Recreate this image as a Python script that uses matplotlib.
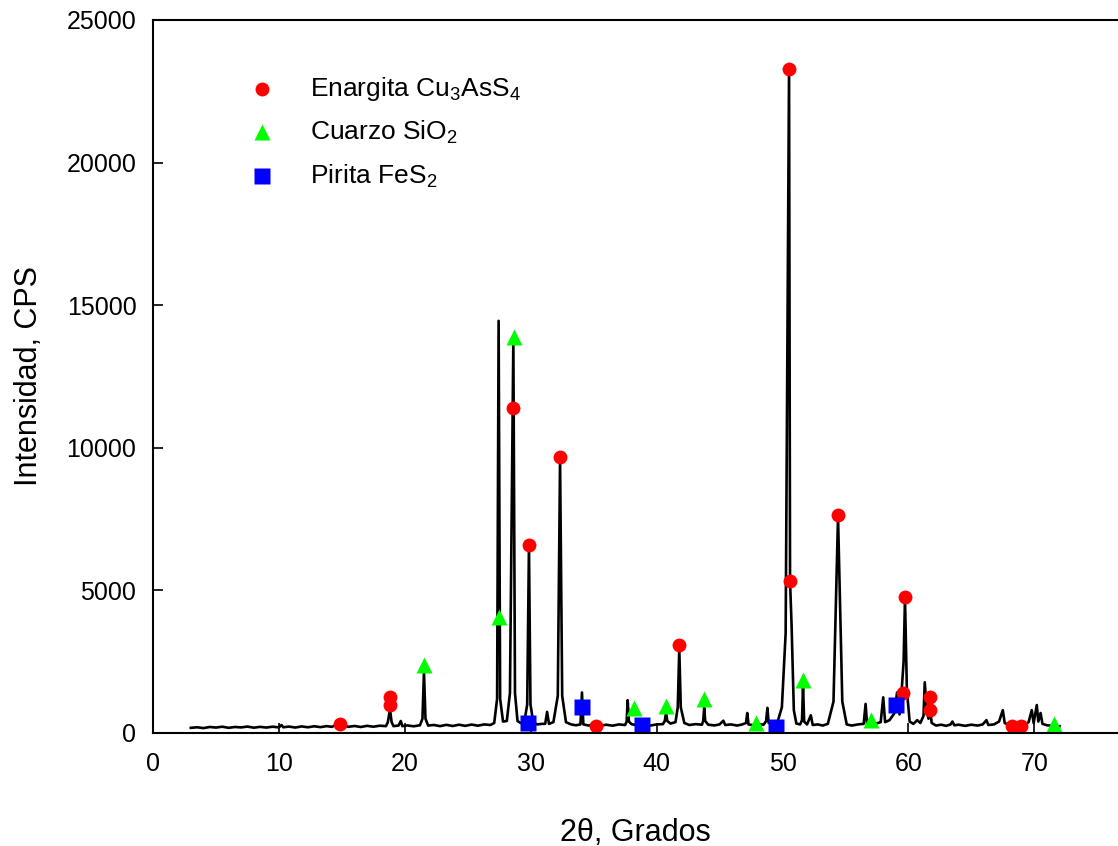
import numpy as np
import matplotlib
matplotlib.use("Agg")
import matplotlib.pyplot as plt

plt.rcParams['font.family'] = ['Liberation Sans', 'DejaVu Sans']
plt.rcParams['mathtext.fontset'] = 'custom'
plt.rcParams['mathtext.rm'] = 'Liberation Sans'
plt.rcParams['mathtext.it'] = 'Liberation Sans'

# difractograma (2theta, CPS)
two_theta = [
    3.0, 3.5, 4.0, 4.5, 5.0, 5.5, 6.0, 6.5, 7.0, 7.5, 8.0, 8.5, 9.0, 9.5, 10.0, 10.2,
    10.35, 10.8, 11.3, 11.8, 12.3, 12.8, 13.3, 13.8, 14.2, 14.5, 14.85, 15.2, 15.5,
    16.0, 16.5, 17.0, 17.5, 18.0, 18.5, 18.65, 18.82, 18.95, 19.1, 19.5, 19.68, 19.8,
    20.2, 20.7, 21.2, 21.4, 21.52, 21.64, 21.85, 22.3, 22.8, 23.3, 23.8, 24.3, 24.8,
    25.3, 25.8, 26.3, 26.8, 27.1, 27.33, 27.45, 27.57, 27.8, 28.1, 28.35, 28.62, 28.75,
    28.95, 29.2, 29.5, 29.72, 29.86, 29.98, 30.2, 30.5, 30.9, 31.15, 31.3, 31.45, 31.8,
    32.15, 32.33, 32.5, 32.8, 33.2, 33.6, 33.95, 34.07, 34.18, 34.6, 35.0, 35.5, 36.0,
    36.5, 37.0, 37.5, 37.62, 37.7, 37.8, 38.0, 38.5, 39.0, 39.5, 40.0, 40.5, 40.65,
    40.75, 40.85, 41.1, 41.5, 41.68, 41.8, 41.92, 42.2, 42.6, 43.1, 43.6, 43.7, 43.78,
    43.86, 44.1, 44.6, 45.0, 45.3, 45.45, 45.9, 46.4, 46.8, 47.1, 47.2, 47.3, 47.7,
    48.1, 48.5, 48.7, 48.8, 48.9, 49.2, 49.6, 49.95, 50.25, 50.52, 50.6, 50.72, 50.9,
    51.1, 51.4, 51.55, 51.63, 51.72, 51.95, 52.25, 52.4, 52.8, 53.2, 53.6, 54.05, 54.41,
    54.75, 55.1, 55.5, 56.0, 56.45, 56.6, 56.72, 57.0, 57.3, 57.8, 58.0, 58.15, 58.5,
    58.9, 59.1, 59.3, 59.45, 59.62, 59.73, 59.88, 60.1, 60.4, 60.7, 60.95, 61.2, 61.3,
    61.45, 61.6, 61.72, 61.85, 62.2, 62.6, 63.0, 63.35, 63.5, 63.65, 64.0, 64.5, 65.0,
    65.5, 65.9, 66.2, 66.35, 66.8, 67.2, 67.5, 67.65, 68.0, 68.5, 68.9, 69.3, 69.55,
    69.8, 69.95, 70.2, 70.32, 70.5, 70.65, 71.0, 71.5, 72.0,
]
cps = [
    180, 200, 170, 210, 190, 220, 180, 210, 195, 225, 185, 215, 190, 220, 195, 280,
    200, 225, 190, 230, 200, 235, 205, 240, 215, 280, 340, 260, 215,
    245, 210, 250, 220, 255, 240, 380, 830, 380, 240, 260, 420, 240,
    265, 235, 270, 500, 2150, 500, 260, 280, 240, 285, 245, 290, 250,
    295, 255, 300, 280, 350, 1200, 14450, 1200, 400, 420, 1400, 13800, 1400,
    420, 350, 400, 1000, 6550, 1000, 380, 300, 320, 320, 740, 320, 380,
    1300, 9600, 1300, 380, 300, 270, 300, 1420, 300, 260, 300, 250, 290,
    255, 300, 280, 400, 1150, 400, 310, 265, 300, 260, 300, 310, 420,
    720, 420, 330, 380, 900, 2950, 900, 350, 280, 310, 290, 420, 880,
    420, 290, 265, 300, 430, 280, 300, 260, 300, 350, 700, 300, 270,
    310, 290, 420, 880, 350, 320, 380, 900, 3500, 23250, 5300, 3800, 800,
    330, 300, 450, 1680, 400, 300, 620, 280, 300, 260, 320, 1100, 7600,
    1100, 300, 260, 300, 320, 1020, 300, 280, 310, 380, 1250, 380, 450,
    700, 1420, 650, 1400, 2500, 4750, 1500, 400, 320, 450, 350, 600, 1780,
    800, 500, 900, 350, 260, 290, 250, 300, 400, 270, 290, 250, 290,
    260, 300, 450, 280, 300, 400, 800, 350, 280, 250, 270, 300, 380,
    800, 350, 980, 400, 700, 320, 270, 250, 240,
]

# fases identificadas
enargita_x = [14.85, 18.82, 18.82, 28.59, 29.86, 32.33, 35.19, 41.78, 50.52, 50.60,
              54.41, 59.73, 59.57, 61.72, 61.72, 68.23, 68.94]
enargita_y = [316, 1262, 982, 11396, 6592, 9677, 245, 3086, 23282, 5330,
              7644, 4769, 1403, 1262, 806, 245, 245]
cuarzo_x = [21.52, 27.48, 28.67, 38.20, 40.75, 43.76, 47.90, 51.63, 57.03, 71.56]
cuarzo_y = [2384, 4067, 13885, 877, 947, 1192, 351, 1858, 456, 316]
pirita_x = [29.79, 34.07, 38.84, 49.48, 59.02]
pirita_y = [351, 912, 281, 210, 982]

fig = plt.figure(figsize=(11.18, 8.46), dpi=100)
ax = fig.add_axes([0.1369, 0.1336, 0.8631, 0.8428])

ax.plot(two_theta, cps, color='black', lw=1.9)
ax.plot(enargita_x, enargita_y, 'o', color='#ff0000', ms=10, mec='none')
ax.plot(cuarzo_x, cuarzo_y, '^', color='#00ff00', ms=11, mec='none')
ax.plot(pirita_x, pirita_y, 's', color='#0000ff', ms=12, mec='none')

# leyenda
tr = ax.transAxes
leg = [('o', '#ff0000', 10, 'Enargita Cu$_3$AsS$_4$', 0.903),
       ('^', '#00ff00', 11, 'Cuarzo SiO$_2$', 0.843),
       ('s', '#0000ff', 12, 'Pirita FeS$_2$', 0.781)]
for m, c, s, lab, yy in leg:
    ax.plot([0.113], [yy], m, color=c, ms=s, mec='none', transform=tr)
    ax.text(0.163, yy, lab, transform=tr, fontsize=19, va='center', ha='left')

ax.set_xlim(0, 76.65)
ax.set_ylim(0, 25000)
ax.set_xticks(np.arange(0, 71, 10))
ax.set_yticks(np.arange(0, 25001, 5000))
ax.spines['right'].set_visible(False)
for sp in ['left', 'bottom', 'top']:
    ax.spines[sp].set_linewidth(1.5)
ax.tick_params(direction='in', length=7, width=1.2, labelsize=18, top=False, right=False)
ax.tick_params(axis='y', pad=12)
ax.tick_params(axis='x', pad=14)

ax.set_xlabel('2θ, Grados', fontsize=22, labelpad=30)
ax.set_ylabel('Intensidad, CPS', fontsize=22, labelpad=16)

fig.savefig('out.png', dpi=100)
